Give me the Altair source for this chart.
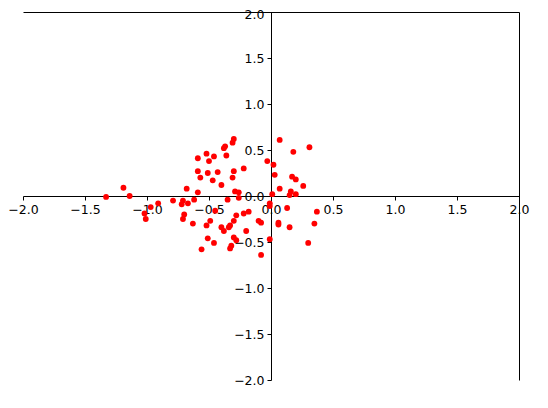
import altair as alt
import pandas as pd

x_vals = [-1.33, -1.19, -1.14, -1.02, -1.01, -0.97, -0.91, -0.79, -0.71, -0.72,
          -0.67, -0.68, -0.70, -0.71, -0.63, -0.62, -0.30, -0.31, -0.37, -0.38,
          -0.52, -0.59, -0.46, -0.50, -0.36, -0.59, -0.57, -0.51, -0.43, -0.47,
          -0.40, -0.30, -0.31, -0.59, -0.22, -0.29, -0.26, -0.26, 0.01, -0.45,
          -0.49, -0.52, -0.40, -0.34, -0.33, -0.38, -0.51, -0.46, -0.32, -0.33,
          -0.56, -0.35, -0.18, -0.22, -0.28, -0.30, -0.10, -0.08, -0.20, -0.30,
          -0.28, -0.01, -0.08, 0.07, 0.18, 0.31, -0.03, 0.02, 0.03, 0.17,
          0.20, 0.26, 0.07, 0.16, 0.15, 0.20, -0.01, -0.01, 0.13, 0.37,
          0.06, 0.06, 0.15, 0.35, 0.30]
y_vals = [-0.01, 0.09, 0.00, -0.19, -0.25, -0.12, -0.08, -0.05, -0.05, -0.09,
          -0.08, 0.08, -0.20, -0.25, -0.30, -0.04, 0.62, 0.58, 0.54, 0.52,
          0.46, 0.41, 0.43, 0.38, 0.44, 0.27, 0.20, 0.25, 0.26, 0.17,
          0.12, 0.27, 0.20, 0.04, 0.30, 0.05, 0.04, -0.02, 0.02, -0.16,
          -0.27, -0.32, -0.34, -0.34, -0.32, -0.38, -0.46, -0.51, -0.54, -0.57,
          -0.58, -0.04, -0.17, -0.19, -0.21, -0.27, -0.27, -0.29, -0.38, -0.45,
          -0.48, -0.47, -0.64, 0.61, 0.48, 0.53, 0.38, 0.34, 0.23, 0.21,
          0.18, 0.11, 0.08, 0.05, 0.01, 0.02, -0.08, -0.11, -0.13, -0.17,
          -0.29, -0.31, -0.34, -0.30, -0.51]
tick_values = [-2.0, -1.5, -1.0, -0.5, 0.0, 0.5, 1.0, 1.5, 2.0]

df = pd.DataFrame({"x": x_vals, "y": y_vals})

W, H = 496, 368
axis_common = dict(
    title=None, values=tick_values, format=".1f", grid=False,
    domainColor="black", domainWidth=1, tickColor="black", tickWidth=1,
    tickSize=4, labelPadding=3, labelColor="black",
    labelFont="DejaVu Sans", labelFontSize=12.5, labelFlush=False,
)
spine_axis = dict(title=None, grid=False, labels=False, ticks=False,
                  domainColor="black", domainWidth=1)

xscale = alt.Scale(domain=[-2, 2], nice=False, zero=False)
yscale = alt.Scale(domain=[-2, 2], nice=False, zero=False)

points = alt.Chart(df).mark_circle(size=34, color="red", opacity=1).encode(
    x=alt.X("x:Q", scale=xscale,
            axis=alt.Axis(orient="bottom", offset=-H / 2, **axis_common)),
    y=alt.Y("y:Q", scale=yscale,
            axis=alt.Axis(orient="left", offset=-W / 2,
                          labelOffset={"condition": {"test": "datum.value >= 2", "value": 2}, "value": 0},
                          **axis_common)),
)

spines = alt.Chart(df).mark_point(opacity=0).encode(
    x=alt.X("x:Q", scale=xscale, axis=alt.Axis(orient="top", **spine_axis)),
    y=alt.Y("y:Q", scale=yscale, axis=alt.Axis(orient="right", **spine_axis)),
)

chart = alt.layer(points, spines).resolve_axis(
    x="independent", y="independent"
).properties(
    width=W, height=H,
    autosize=alt.AutoSizeParams(type="none"),
    padding={"left": 15, "top": 4, "right": 20, "bottom": 20},
).configure_view(stroke=None)

chart.save("out.html", embed_options={"renderer": "svg", "actions": False})
